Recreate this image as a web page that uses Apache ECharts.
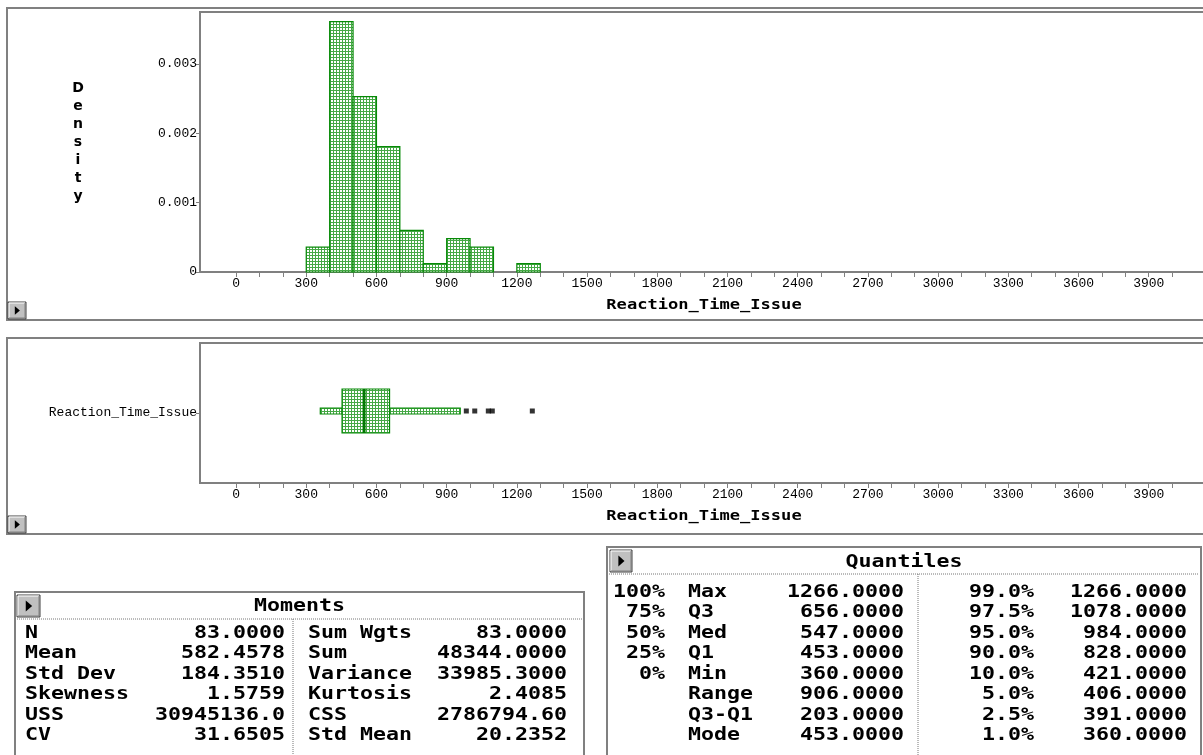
<!DOCTYPE html>
<html>
<head>
<meta charset="utf-8">
<title>Reaction_Time_Issue</title>
<script src="https://cdn.jsdelivr.net/npm/echarts@6/dist/echarts.min.js"></script>
<style>
  html, body { margin: 0; padding: 0; background: #fff; overflow: hidden; }
  #chart { width: 1260px; height: 755px; }
</style>
</head>
<body>
<div id="chart"></div>
<script>
// histogram of Reaction_Time_Issue, bins of width 100, density per bin
const binStarts = [300, 400, 500, 600, 700, 800, 900, 1000, 1100, 1200];
const binEnds = [400, 500, 600, 700, 800, 900, 1000, 1100, 1200, 1300];
const binDensity = [0.00036, 0.00361, 0.00253, 0.00181, 0.00060, 0.00012, 0.00048, 0.00036, 0, 0.00012];

const densityTicks = [0, 0.001, 0.002, 0.003];
const xLabelValues = [0, 300, 600, 900, 1200, 1500, 1800, 2100, 2400, 2700, 3000, 3300, 3600, 3900];
const xTickValues = [0, 100, 200, 300, 400, 500, 600, 700, 800, 900, 1000, 1100, 1200, 1300, 1400,
  1500, 1600, 1700, 1800, 1900, 2000, 2100, 2200, 2300, 2400, 2500, 2600, 2700, 2800, 2900, 3000,
  3100, 3200, 3300, 3400, 3500, 3600, 3700, 3800, 3900, 4000];

// box plot: low whisker, Q1, median, Q3, high whisker
const boxCategory = ['Reaction_Time_Issue'];
const boxValues = [360, 453, 547, 656, 958];
const outliers = [984, 1020, 1078, 1095, 1266];

// Moments table
const momentsLabels = ['N', 'Mean', 'Std Dev', 'Skewness', 'USS', 'CV'];
const momentsValues = ['83.0000', '582.4578', '184.3510', '1.5759', '30945136.0', '31.6505'];
const momentsLabels2 = ['Sum Wgts', 'Sum', 'Variance', 'Kurtosis', 'CSS', 'Std Mean'];
const momentsValues2 = ['83.0000', '48344.0000', '33985.3000', '2.4085', '2786794.60', '20.2352'];

// Quantiles table
const quantPct = ['100%', '75%', '50%', '25%', '0%', '', '', ''];
const quantLabels = ['Max', 'Q3', 'Med', 'Q1', 'Min', 'Range', 'Q3-Q1', 'Mode'];
const quantValues = ['1266.0000', '656.0000', '547.0000', '453.0000', '360.0000', '906.0000', '203.0000', '453.0000'];
const quantPct2 = ['99.0%', '97.5%', '95.0%', '90.0%', '10.0%', '5.0%', '2.5%', '1.0%'];
const quantValues2 = ['1266.0000', '1078.0000', '984.0000', '828.0000', '421.0000', '406.0000', '391.0000', '360.0000'];

const GRAY = '#808080';
const GREEN = '#078a07';
const TICK_FONT = 'Liberation Mono';
const TABLE_FONT = 'bold 18px "DejaVu Sans Mono"';

// cross-hatch fill like the original bars
const hatch = document.createElement('canvas');
hatch.width = 3;
hatch.height = 3;
const hctx = hatch.getContext('2d');
hctx.fillStyle = '#ffffff';
hctx.fillRect(0, 0, 3, 3);
hctx.fillStyle = '#46a846';
hctx.fillRect(0, 0, 3, 1);
hctx.fillRect(0, 0, 1, 3);
const hatchFill = { image: hatch, repeat: 'repeat' };

const X_MIN = -154;
const X_MAX = 4290;

const valueAxis = (gridIndex) => ({
  type: 'value',
  gridIndex: gridIndex,
  min: X_MIN,
  max: X_MAX,
  axisLine: { show: true, onZero: false, lineStyle: { color: GRAY, width: 2 } },
  axisTick: { show: true, customValues: xTickValues, length: 5, lineStyle: { color: GRAY } },
  axisLabel: {
    customValues: xLabelValues, color: '#000', fontFamily: TICK_FONT, fontSize: 13, margin: 5,
    formatter: (v) => String(v)
  },
  splitLine: { show: false }
});

const txt = (text, x, y, align, font, scaleX) => ({
  type: 'text', x: x, y: y, silent: true, scaleX: scaleX,
  style: { text: text, font: font, fill: '#000', align: align, verticalAlign: 'middle',
    textAlign: align, textVerticalAlign: 'middle' }
});

// wide bitmap-like table text: monospace stretched horizontally
const wide = (text, x, y, align) => txt(text, x, y, align, TABLE_FONT, 1.2);

const button = (x, y, w, h) => ({
  type: 'group', x: x, y: y, silent: true,
  children: [
    { type: 'rect', shape: { x: 0, y: 0, width: w, height: h }, style: { fill: '#c0c0c0', stroke: '#404040', lineWidth: 1 } },
    { type: 'polyline', shape: { points: [[1, h - 1], [1, 1], [w - 1, 1]] }, style: { stroke: '#ffffff', lineWidth: 1, fill: null } },
    { type: 'polyline', shape: { points: [[1, h - 1], [w - 1, h - 1], [w - 1, 1]] }, style: { stroke: '#808080', lineWidth: 1, fill: null } },
    { type: 'polygon', shape: { points: [[w * 0.38, h * 0.25], [w * 0.66, h * 0.5], [w * 0.38, h * 0.75]] }, style: { fill: '#000' } }
  ]
});

const dotted = (x1, y1, x2, y2) => ({
  type: 'line', silent: true,
  shape: { x1: x1, y1: y1, x2: x2, y2: y2 },
  style: { stroke: '#777', lineWidth: 1, lineDash: [1, 1] }
});

const graphics = [];

// outer panel borders
graphics.push({ type: 'rect', silent: true, shape: { x: 7, y: 8, width: 1300, height: 312 }, style: { fill: null, stroke: GRAY, lineWidth: 2 } });
graphics.push({ type: 'rect', silent: true, shape: { x: 7, y: 338, width: 1300, height: 196 }, style: { fill: null, stroke: GRAY, lineWidth: 2 } });
graphics.push(button(8, 302, 18, 17));
graphics.push(button(8, 516, 18, 17));

// Density axis title, stacked letters
graphics.push({
  type: 'text', x: 78, y: 79, silent: true,
  style: { text: 'D\ne\nn\ns\ni\nt\ny', font: 'bold 14px "DejaVu Sans"', fill: '#000', lineHeight: 18,
    align: 'center', textAlign: 'center', verticalAlign: 'top', textVerticalAlign: 'top' }
});
graphics.push(txt('Reaction_Time_Issue', 704, 305, 'center', 'bold 14px "DejaVu Sans Mono"', 1.22));
graphics.push(txt('Reaction_Time_Issue', 704, 516, 'center', 'bold 14px "DejaVu Sans Mono"', 1.22));

// Moments table
const mT = { left: 15, top: 592, right: 584, sep: 619, mid: 293, row0: 633, rowH: 20.5 };
graphics.push({ type: 'rect', silent: true, shape: { x: mT.left, y: mT.top, width: mT.right - mT.left, height: 200 }, style: { fill: '#fff', stroke: GRAY, lineWidth: 2 } });
graphics.push(button(17, 595, 23, 22));
graphics.push(wide('Moments', (mT.left + mT.right) / 2, 606, 'center'));
graphics.push(dotted(mT.left + 2, mT.sep, mT.right - 2, mT.sep));
graphics.push(dotted(mT.mid, mT.sep, mT.mid, 760));
momentsLabels.forEach((label, i) => {
  const y = mT.row0 + i * mT.rowH;
  graphics.push(wide(label, 25, y, 'left'));
  graphics.push(wide(momentsValues[i], 285, y, 'right'));
  graphics.push(wide(momentsLabels2[i], 308, y, 'left'));
  graphics.push(wide(momentsValues2[i], 567, y, 'right'));
});

// Quantiles table
const qT = { left: 607, top: 547, right: 1201, sep: 574, mid: 918, row0: 592, rowH: 20.5 };
graphics.push({ type: 'rect', silent: true, shape: { x: qT.left, y: qT.top, width: qT.right - qT.left, height: 250 }, style: { fill: '#fff', stroke: GRAY, lineWidth: 2 } });
graphics.push(button(610, 550, 22, 22));
graphics.push(wide('Quantiles', (qT.left + qT.right) / 2, 562, 'center'));
graphics.push(dotted(qT.left + 2, qT.sep, qT.right - 2, qT.sep));
graphics.push(dotted(qT.mid, qT.sep, qT.mid, 760));
quantLabels.forEach((label, i) => {
  const y = qT.row0 + i * qT.rowH;
  if (quantPct[i]) graphics.push(wide(quantPct[i], 665, y, 'right'));
  graphics.push(wide(label, 688, y, 'left'));
  graphics.push(wide(quantValues[i], 904, y, 'right'));
  graphics.push(wide(quantPct2[i], 1034, y, 'right'));
  graphics.push(wide(quantValues2[i], 1187, y, 'right'));
});

const histData = binStarts.map((s, i) => [s, binEnds[i], binDensity[i]]);

const option = {
  animation: false,
  backgroundColor: '#fff',
  grid: [
    { left: 200, top: 12, width: 1040, height: 260, show: true, borderColor: GRAY, borderWidth: 2, backgroundColor: '#fff', outerBoundsMode: 'none', containLabel: false },
    { left: 200, top: 343, width: 1040, height: 140, show: true, borderColor: GRAY, borderWidth: 2, backgroundColor: '#fff', outerBoundsMode: 'none', containLabel: false }
  ],
  xAxis: [valueAxis(0), valueAxis(1)],
  yAxis: [
    {
      type: 'value', gridIndex: 0, min: 0, max: 0.00375,
      axisLine: { show: true, onZero: false, lineStyle: { color: GRAY, width: 2 } },
      axisTick: { show: true, customValues: densityTicks, length: 4, lineStyle: { color: GRAY } },
      axisLabel: {
        customValues: densityTicks, color: '#000', fontFamily: TICK_FONT, fontSize: 13, margin: 3,
        formatter: (v) => (v === 0 ? '0' : v.toFixed(3))
      },
      splitLine: { show: false }
    },
    {
      type: 'category', gridIndex: 1, data: boxCategory,
      axisLine: { show: true, onZero: false, lineStyle: { color: GRAY, width: 2 } },
      axisTick: { show: true, alignWithLabel: true, length: 4, lineStyle: { color: GRAY } },
      axisLabel: { color: '#000', fontFamily: TICK_FONT, fontSize: 13, margin: 3 },
      splitLine: { show: false }
    }
  ],
  graphic: { elements: graphics },
  series: [
    {
      type: 'custom',
      xAxisIndex: 0, yAxisIndex: 0,
      data: histData,
      encode: { x: [0, 1], y: 2 },
      renderItem: (params, api) => {
        const d = api.value(2);
        if (!d) return null;
        const p0 = api.coord([api.value(0), d]);
        const p1 = api.coord([api.value(1), 0]);
        return {
          type: 'rect',
          shape: { x: p0[0], y: p0[1], width: p1[0] - p0[0], height: p1[1] - p0[1] },
          style: { fill: hatchFill, stroke: GREEN, lineWidth: 1.2 }
        };
      }
    },
    {
      type: 'custom',
      xAxisIndex: 1, yAxisIndex: 1,
      data: [[0].concat(boxValues)],
      encode: { y: 0, x: [1, 2, 3, 4, 5] },
      renderItem: (params, api) => {
        const cat = api.value(0);
        const lo = api.coord([api.value(1), cat]);
        const q1 = api.coord([api.value(2), cat]);
        const med = api.coord([api.value(3), cat]);
        const q3 = api.coord([api.value(4), cat]);
        const hi = api.coord([api.value(5), cat]);
        const cy = lo[1] - 2;
        const boxH = 44;
        const whH = 6;
        const body = { fill: hatchFill, stroke: GREEN, lineWidth: 1.2 };
        return {
          type: 'group',
          children: [
            { type: 'rect', shape: { x: lo[0], y: cy - whH / 2, width: q1[0] - lo[0], height: whH }, style: body },
            { type: 'rect', shape: { x: q3[0], y: cy - whH / 2, width: hi[0] - q3[0], height: whH }, style: body },
            { type: 'rect', shape: { x: q1[0], y: cy - boxH / 2, width: q3[0] - q1[0], height: boxH }, style: body },
            { type: 'line', shape: { x1: med[0], y1: cy - boxH / 2, x2: med[0], y2: cy + boxH / 2 }, style: { stroke: '#007a00', lineWidth: 3 } }
          ]
        };
      }
    },
    {
      type: 'scatter',
      xAxisIndex: 1, yAxisIndex: 1,
      symbol: 'rect',
      symbolSize: 5,
      symbolOffset: [0, -2],
      itemStyle: { color: '#000' },
      data: outliers.map((v) => [v, 0])
    }
  ]
};

const chart = echarts.init(document.getElementById('chart'));
chart.setOption(option);
</script>
</body>
</html>
